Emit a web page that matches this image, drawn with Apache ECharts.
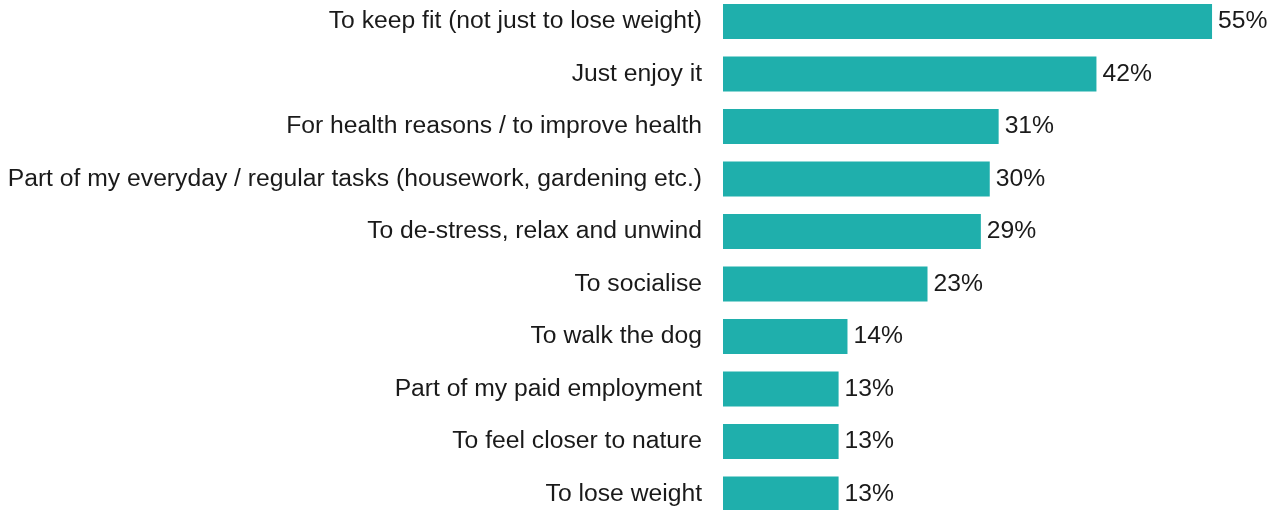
<!DOCTYPE html>
<html>
<head>
<meta charset="utf-8">
<script src="https://cdn.jsdelivr.net/npm/echarts@6/dist/echarts.min.js"></script>
<style>
  html, body { margin: 0; padding: 0; background: #ffffff; }
  #chart { width: 1272px; height: 510px; }
</style>
</head>
<body>
<div id="chart"></div>
<script>
// Reasons for being physically active, share of respondents (%)
const categories = [
  "To keep fit (not just to lose weight)",
  "Just enjoy it",
  "For health reasons / to improve health",
  "Part of my everyday / regular tasks (housework, gardening etc.)",
  "To de-stress, relax and unwind",
  "To socialise",
  "To walk the dog",
  "Part of my paid employment",
  "To feel closer to nature",
  "To lose weight"
];
const values = [55, 42, 31, 30, 29, 23, 14, 13, 13, 13];

const FONT = 'Liberation Sans, Arial, sans-serif';

const chart = echarts.init(document.getElementById('chart'), null, { renderer: 'canvas' });
chart.setOption({
  animation: false,
  backgroundColor: '#ffffff',
  grid: {
    left: 723, right: 15.5, top: -4.75, bottom: -10.25,
    containLabel: false,
    outerBoundsMode: 'none'
  },
  xAxis: {
    type: 'value', min: 0, max: 60,
    show: false
  },
  yAxis: {
    type: 'category',
    data: categories,
    inverse: true,
    axisLine: { show: false },
    axisTick: { show: false },
    axisLabel: {
      margin: 21,
      color: '#1a1a1a',
      fontFamily: FONT,
      fontSize: 24.7
    }
  },
  series: [{
    type: 'bar',
    data: values,
    barWidth: 35,
    itemStyle: { color: '#1fafac' },
    label: {
      show: true,
      position: 'right',
      distance: 6,
      formatter: '{c}%',
      color: '#1a1a1a',
      fontFamily: FONT,
      fontSize: 24.7
    }
  }]
});
</script>
</body>
</html>
